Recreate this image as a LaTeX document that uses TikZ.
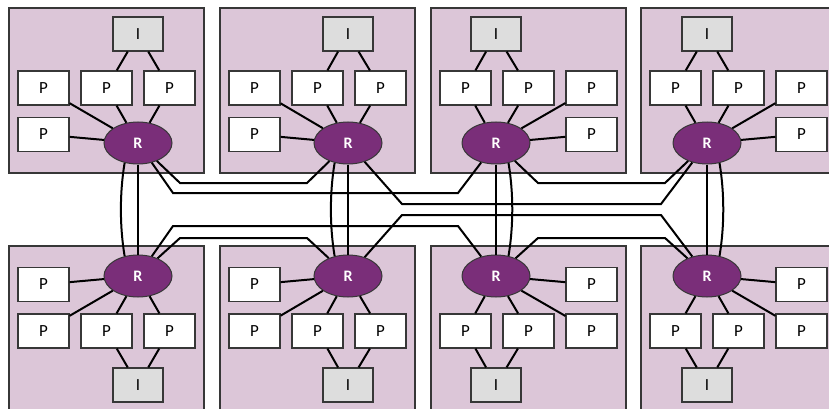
\documentclass[tikz,border=0pt]{standalone}
\usepackage{fontspec}
\setmainfont{Carlito}
\usetikzlibrary{shapes.geometric}
\definecolor{panelfill}{RGB}{220,198,216}
\definecolor{routerfill}{RGB}{122,46,121}
\definecolor{iofill}{RGB}{221,221,221}
\definecolor{edgegray}{RGB}{55,55,55}
\begin{document}
\begin{tikzpicture}[x=1pt,y=-1pt,
  panel/.style={rectangle,draw=edgegray,line width=1.4pt,fill=panelfill,
    minimum width=195pt,minimum height=165pt,inner sep=0pt},
  pbox/.style={rectangle,draw=edgegray,line width=1.2pt,fill=white,
    minimum width=51pt,minimum height=34pt,inner sep=0pt,
    font=\fontsize{17}{17}\selectfont},
  iobox/.style={pbox,fill=iofill,minimum width=50pt},
  router/.style={ellipse,draw=edgegray,line width=1pt,fill=routerfill,
    minimum width=68pt,minimum height=42pt,inner sep=0pt,text=white,
    font=\fontsize{16}{16}\selectfont\bfseries},
  link/.style={draw=black,line width=2pt}]
\useasboundingbox (0,0) rectangle (829,409);

% two rows of four panels; bottom row is the vertical mirror of the top row
\foreach \r/\py/\yi/\yp/\yd/\yr in {t/8/34/88/134.5/143,b/246/385/331/284.5/276}{
  \foreach \c/\px/\ix/\dx/\ia/\ib in {1/9/129/34.5/b/c,2/220/128/34.5/b/c,
                                      3/431/65/160.5/a/b,4/641/66/160.5/a/b}{
    \node[panel] (Q\r\c) at (\px+97.5,\py+82.5) {};
    \node[iobox] (I\r\c) at (\px+\ix,\yi) {I};
    \node[pbox] (P\r\c-a) at (\px+34.5,\yp) {P};
    \node[pbox] (P\r\c-b) at (\px+97.5,\yp) {P};
    \node[pbox] (P\r\c-c) at (\px+160.5,\yp) {P};
    \node[pbox] (P\r\c-d) at (\px+\dx,\yd) {P};
    \node[router] (R\r\c) at (\px+\ix,\yr) {R};
    \draw[link] (I\r\c) -- (P\r\c-\ia);
    \draw[link] (I\r\c) -- (P\r\c-\ib);
    \foreach \p in {a,b,c,d}{
      \draw[link] (R\r\c) -- (P\r\c-\p);
    }
  }
}

% vertical links between the two rows: one straight, one bowed
\foreach \c in {1,2,3,4}{
  \draw[link] (Rt\c) -- (Rb\c);
}
\draw[link] (Rt1.236) .. controls +(-5,30) and +(-5,-30) .. (Rb1.124);
\draw[link] (Rt2.236) .. controls +(-5,30) and +(-5,-30) .. (Rb2.124);
\draw[link] (Rt3.302) .. controls +(5,30) and +(5,-30) .. (Rb3.58);
\draw[link] (Rt4.302) .. controls +(5,30) and +(5,-30) .. (Rb4.58);

% horizontal links routed through the channel between the rows
\draw[link] (Rt1) -- (180,183) -- (307,183) -- (Rt2);
\draw[link] (Rt1) -- (173,193) -- (458,193) -- (Rt3);
\draw[link] (Rt2) -- (402,204) -- (661,204) -- (Rt4);
\draw[link] (Rt3) -- (538,183) -- (665,183) -- (Rt4);
\draw[link] (Rb1) -- (180,238) -- (307,238) -- (Rb2);
\draw[link] (Rb1) -- (173,226) -- (458,226) -- (Rb3);
\draw[link] (Rb2) -- (402,215) -- (661,215) -- (Rb4);
\draw[link] (Rb3) -- (538,238) -- (665,238) -- (Rb4);
\end{tikzpicture}
\end{document}
